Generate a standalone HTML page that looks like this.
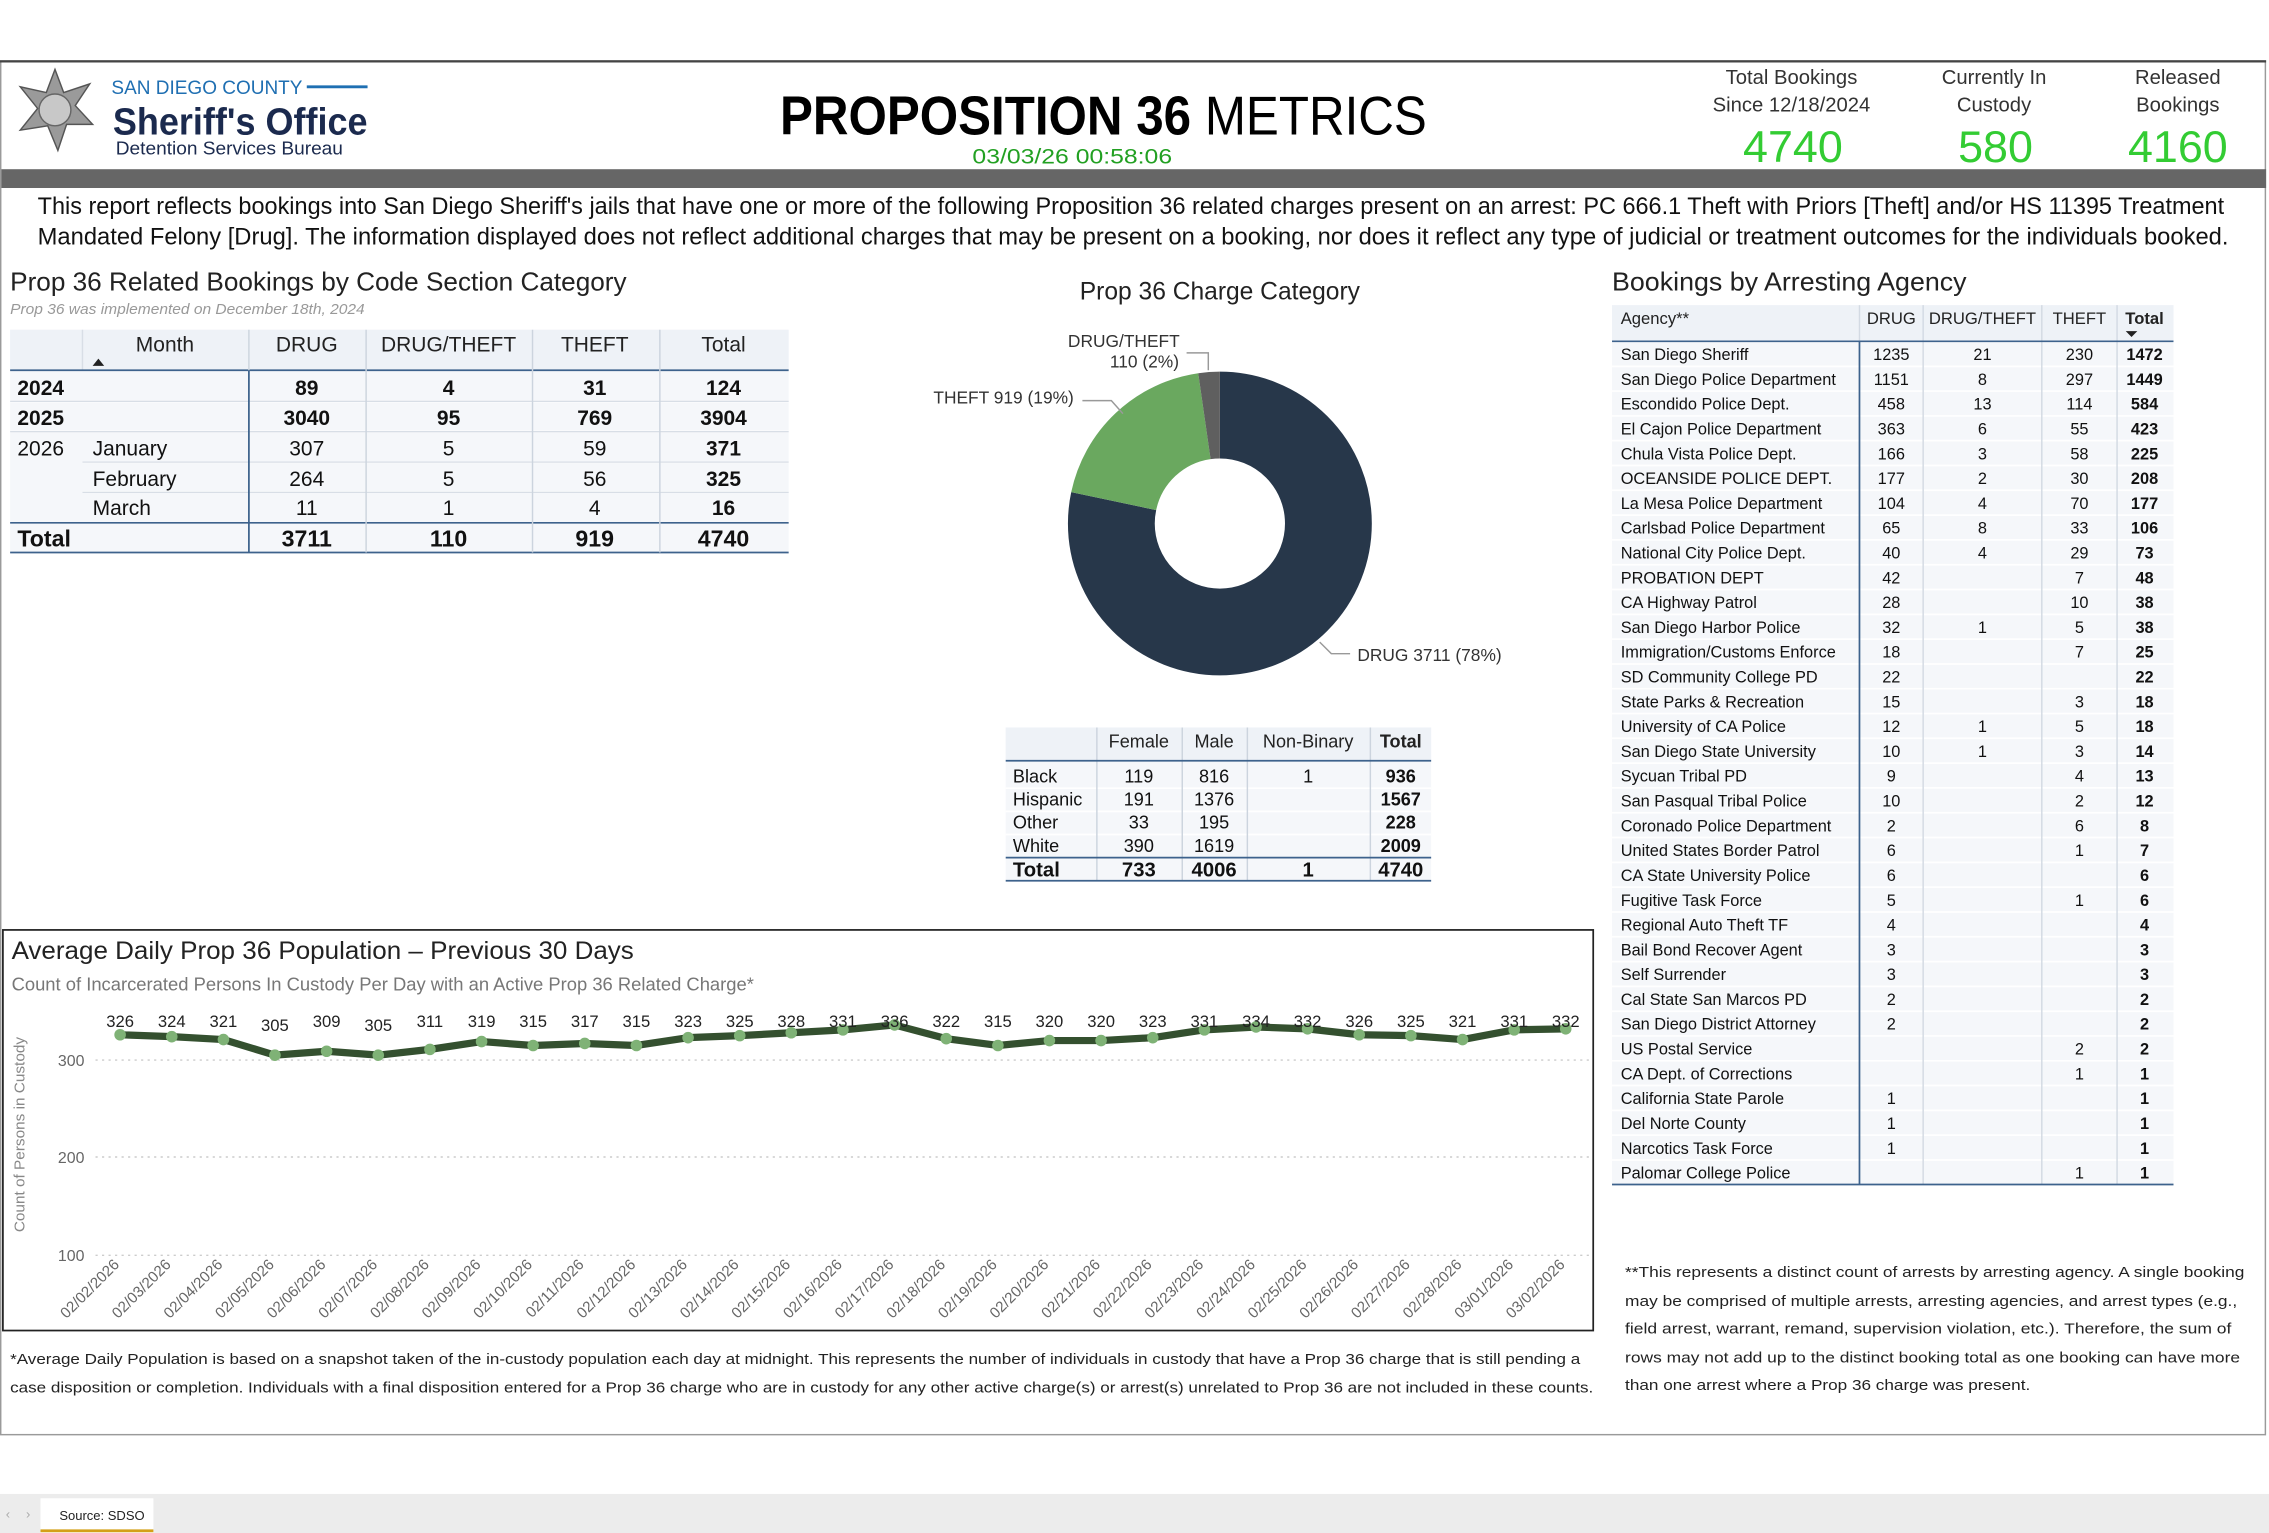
<!DOCTYPE html>
<html><head><meta charset="utf-8"><style>
html,body{margin:0;padding:0;background:#fff;}
svg{display:block;}
text{font-family:"Liberation Sans",sans-serif;}
</style></head><body>
<svg width="2269" height="1533" viewBox="0 0 1568 1060" preserveAspectRatio="none" xmlns="http://www.w3.org/2000/svg">
<rect width="1568" height="1060" fill="#fff"/>
<!-- frame -->
<rect x="0.5" y="42" width="1565" height="950" fill="#fff" stroke="#9a9a9a" stroke-width="1"/>
<line x1="0" y1="42.5" x2="1566" y2="42.5" stroke="#444" stroke-width="1.5"/>
<!-- logo -->
<polygon points="38,48 44,64 62,58 52,73 64,86 46,86 40,104 33,87 14,90 26,75 14,60 32,64" fill="#9a9a9a" stroke="#555" stroke-width="1"/>
<circle cx="38" cy="76" r="11" fill="#c8c8c8" stroke="#666"/>
<text x="77" y="65" font-size="13.5" fill="#1f6fb2" textLength="132" lengthAdjust="spacingAndGlyphs">SAN DIEGO COUNTY</text>
<line x1="212" y1="60" x2="254" y2="60" stroke="#1f6fb2" stroke-width="2"/>
<text x="78" y="93" font-size="26" font-weight="bold" fill="#1b2a4e" textLength="176" lengthAdjust="spacingAndGlyphs">Sheriff's Office</text>
<text x="80" y="107" font-size="12.5" fill="#1b2a4e" textLength="157" lengthAdjust="spacingAndGlyphs">Detention Services Bureau</text>
<!-- title -->
<text x="539" y="93" font-size="38" fill="#000" textLength="447" lengthAdjust="spacingAndGlyphs"><tspan font-weight="bold">PROPOSITION 36</tspan> METRICS</text>
<text x="672" y="113" font-size="15" fill="#22a022" textLength="138" lengthAdjust="spacingAndGlyphs">03/03/26 00:58:06</text>
<!-- KPIs -->
<g font-size="14" fill="#333" text-anchor="middle">
<text x="1238" y="58">Total Bookings</text><text x="1238" y="77">Since 12/18/2024</text>
<text x="1378" y="58">Currently In</text><text x="1378" y="77">Custody</text>
<text x="1505" y="58">Released</text><text x="1505" y="77">Bookings</text>
</g>
<g font-size="31" fill="#33cc33" text-anchor="middle">
<text x="1239" y="112">4740</text><text x="1379" y="112">580</text><text x="1505" y="112">4160</text>
</g>
<rect x="1" y="117" width="1565" height="13" fill="#666"/>
<text x="26" y="148" font-size="16.5" fill="#111" textLength="1511" lengthAdjust="spacingAndGlyphs">This report reflects bookings into San Diego Sheriff's jails that have one or more of the following Proposition 36 related charges present on an arrest: PC 666.1 Theft with Priors [Theft] and/or HS 11395 Treatment</text>
<text x="26" y="169" font-size="16.5" fill="#111" textLength="1514" lengthAdjust="spacingAndGlyphs">Mandated Felony [Drug]. The information displayed does not reflect additional charges that may be present on a booking, nor does it reflect any type of judicial or treatment outcomes for the individuals booked.</text>

<!-- left table -->
<text x="7" y="201" font-size="18" fill="#222" textLength="426" lengthAdjust="spacingAndGlyphs">Prop 36 Related Bookings by Code Section Category</text>
<text x="7" y="217" font-size="10.5" font-style="italic" fill="#999" textLength="245" lengthAdjust="spacingAndGlyphs">Prop 36 was implemented on December 18th, 2024</text>
<rect x="7" y="228" width="538" height="154" fill="#f5f7fa"/>
<rect x="7" y="228" width="538" height="28" fill="#eef2f7"/>
<g stroke="#fff" stroke-width="1.5"><line x1="7" x2="545" y1="277.5" y2="277.5"/><line x1="7" x2="545" y1="298.5" y2="298.5"/><line x1="57" x2="545" y1="319.5" y2="319.5"/><line x1="57" x2="545" y1="340.5" y2="340.5"/></g>
<g stroke="#d8dee6" stroke-width="1"><line x1="57" x2="57" y1="228" y2="256"/><line x1="57" x2="545" y1="319.5" y2="319.5"/><line x1="57" x2="545" y1="340.5" y2="340.5"/><line x1="7" x2="545" y1="298.5" y2="298.5"/><line x1="7" x2="545" y1="277.5" y2="277.5"/></g>
<g stroke="#3d628c" stroke-width="1.2"><line x1="7" x2="545" y1="256" y2="256"/><line x1="7" x2="545" y1="361.5" y2="361.5"/><line x1="7" x2="545" y1="382" y2="382"/><line x1="172" x2="172" y1="256" y2="382"/></g>
<g stroke="#ccd4de" stroke-width="1"><line x1="172" x2="172" y1="228" y2="256"/><line x1="253" x2="253" y1="228" y2="382"/><line x1="368" x2="368" y1="228" y2="382"/><line x1="456" x2="456" y1="228" y2="382"/></g>
<g font-size="14.5" fill="#222" text-anchor="middle">
<text x="114" y="243">Month</text><text x="212" y="243">DRUG</text><text x="310" y="243">DRUG/THEFT</text><text x="411" y="243">THEFT</text><text x="500" y="243">Total</text>
</g>
<polygon points="64,253 72,253 68,248" fill="#222"/>
<g font-size="14.5" fill="#111">
<text x="12" y="273" font-weight="bold">2024</text><text x="12" y="294" font-weight="bold">2025</text>
<text x="12" y="315">2026</text><text x="64" y="315">January</text><text x="64" y="336">February</text><text x="64" y="356">March</text>
<text x="12" y="378" font-weight="bold" font-size="16">Total</text>
</g>
<g font-size="14.5" fill="#111" text-anchor="middle">
<g font-weight="bold"><text x="212" y="273">89</text><text x="310" y="273">4</text><text x="411" y="273">31</text><text x="500" y="273">124</text>
<text x="212" y="294">3040</text><text x="310" y="294">95</text><text x="411" y="294">769</text><text x="500" y="294">3904</text></g>
<text x="212" y="315">307</text><text x="310" y="315">5</text><text x="411" y="315">59</text><text x="500" y="315" font-weight="bold">371</text>
<text x="212" y="336">264</text><text x="310" y="336">5</text><text x="411" y="336">56</text><text x="500" y="336" font-weight="bold">325</text>
<text x="212" y="356">11</text><text x="310" y="356">1</text><text x="411" y="356">4</text><text x="500" y="356" font-weight="bold">16</text>
<g font-weight="bold" font-size="16"><text x="212" y="378">3711</text><text x="310" y="378">110</text><text x="411" y="378">919</text><text x="500" y="378">4740</text></g>
</g>

<!-- donut -->
<text x="843" y="207" font-size="17" fill="#222" text-anchor="middle">Prop 36 Charge Category</text>
<g transform="rotate(-90 843 362)" fill="none" stroke-width="60">
<circle cx="843" cy="362" r="75" stroke="#27374a" stroke-dasharray="368.9 471.24"/>
<circle cx="843" cy="362" r="75" stroke="#6aa85f" stroke-dasharray="0 368.9 91.4 20"/>
<circle cx="843" cy="362" r="75" stroke="#5f5f5f" stroke-dasharray="0 460.3 10.94 10"/>
</g>
<g stroke="#999" fill="none" stroke-width="1"><polyline points="820,244 835,244 835,256"/><polyline points="748,277 768,277 776,286"/><polyline points="912,444 920,452 933,452"/></g>
<g font-size="12" fill="#333">
<text x="738" y="240">DRUG/THEFT</text><text x="767" y="254">110 (2%)</text>
<text x="645" y="279">THEFT 919 (19%)</text>
<text x="938" y="457">DRUG 3711 (78%)</text>
</g>

<!-- demographics table -->
<rect x="695" y="503" width="294" height="106" fill="#f5f7fa"/>
<rect x="695" y="503" width="294" height="23" fill="#eef2f7"/>
<g stroke="#fff" stroke-width="1.2"><line x1="695" x2="989" y1="545" y2="545"/><line x1="695" x2="989" y1="561" y2="561"/><line x1="695" x2="989" y1="577" y2="577"/></g>
<g stroke="#ccd4de"><line x1="758" x2="758" y1="503" y2="609"/><line x1="817" x2="817" y1="503" y2="609"/><line x1="862" x2="862" y1="503" y2="609"/><line x1="947" x2="947" y1="503" y2="609"/></g>
<g stroke="#3d628c" stroke-width="1.2"><line x1="695" x2="989" y1="526" y2="526"/><line x1="695" x2="989" y1="593" y2="593"/><line x1="695" x2="989" y1="609" y2="609"/></g>
<g font-size="12.5" fill="#222" text-anchor="middle"><text x="787" y="517">Female</text><text x="839" y="517">Male</text><text x="904" y="517">Non-Binary</text><text x="968" y="517" font-weight="bold">Total</text></g>
<g font-size="12.5" fill="#111"><text x="700" y="541">Black</text><text x="700" y="557">Hispanic</text><text x="700" y="573">Other</text><text x="700" y="589">White</text><text x="700" y="606" font-weight="bold" font-size="14">Total</text></g>
<g font-size="12.5" fill="#111" text-anchor="middle">
<text x="787" y="541">119</text><text x="839" y="541">816</text><text x="904" y="541">1</text><text x="968" y="541" font-weight="bold">936</text>
<text x="787" y="557">191</text><text x="839" y="557">1376</text><text x="968" y="557" font-weight="bold">1567</text>
<text x="787" y="573">33</text><text x="839" y="573">195</text><text x="968" y="573" font-weight="bold">228</text>
<text x="787" y="589">390</text><text x="839" y="589">1619</text><text x="968" y="589" font-weight="bold">2009</text>
<g font-weight="bold" font-size="14"><text x="787" y="606">733</text><text x="839" y="606">4006</text><text x="904" y="606">1</text><text x="968" y="606">4740</text></g>
</g>

<!-- agency table -->
<text x="1114" y="201" font-size="18" fill="#222" textLength="245" lengthAdjust="spacingAndGlyphs">Bookings by Arresting Agency</text>
<rect x="1114" y="211" width="388" height="608" fill="#f5f7fa"/>
<rect x="1114" y="211" width="388" height="25" fill="#eef2f7"/>
<g stroke="#fff" stroke-width="1.2">
<line x1="1114" x2="1502" y1="253.3" y2="253.3"/><line x1="1114" x2="1502" y1="270.4" y2="270.4"/><line x1="1114" x2="1502" y1="287.6" y2="287.6"/><line x1="1114" x2="1502" y1="304.7" y2="304.7"/><line x1="1114" x2="1502" y1="321.9" y2="321.9"/><line x1="1114" x2="1502" y1="339" y2="339"/><line x1="1114" x2="1502" y1="356.2" y2="356.2"/><line x1="1114" x2="1502" y1="373.3" y2="373.3"/><line x1="1114" x2="1502" y1="390.5" y2="390.5"/><line x1="1114" x2="1502" y1="407.6" y2="407.6"/><line x1="1114" x2="1502" y1="424.8" y2="424.8"/><line x1="1114" x2="1502" y1="441.9" y2="441.9"/><line x1="1114" x2="1502" y1="459.1" y2="459.1"/><line x1="1114" x2="1502" y1="476.2" y2="476.2"/><line x1="1114" x2="1502" y1="493.4" y2="493.4"/><line x1="1114" x2="1502" y1="510.5" y2="510.5"/><line x1="1114" x2="1502" y1="527.7" y2="527.7"/><line x1="1114" x2="1502" y1="544.8" y2="544.8"/><line x1="1114" x2="1502" y1="562" y2="562"/><line x1="1114" x2="1502" y1="579.1" y2="579.1"/><line x1="1114" x2="1502" y1="596.3" y2="596.3"/><line x1="1114" x2="1502" y1="613.4" y2="613.4"/><line x1="1114" x2="1502" y1="630.6" y2="630.6"/><line x1="1114" x2="1502" y1="647.7" y2="647.7"/><line x1="1114" x2="1502" y1="664.9" y2="664.9"/><line x1="1114" x2="1502" y1="682" y2="682"/><line x1="1114" x2="1502" y1="699.2" y2="699.2"/><line x1="1114" x2="1502" y1="716.3" y2="716.3"/><line x1="1114" x2="1502" y1="733.5" y2="733.5"/><line x1="1114" x2="1502" y1="750.6" y2="750.6"/><line x1="1114" x2="1502" y1="767.8" y2="767.8"/><line x1="1114" x2="1502" y1="784.9" y2="784.9"/><line x1="1114" x2="1502" y1="802.1" y2="802.1"/>
</g>
<g stroke="#d3dae3"><line x1="1329" x2="1329" y1="211" y2="819"/><line x1="1411" x2="1411" y1="211" y2="819"/><line x1="1463" x2="1463" y1="211" y2="819"/><line x1="1285" x2="1285" y1="211" y2="236"/></g>
<g stroke="#3d628c" stroke-width="1.2"><line x1="1114" x2="1502" y1="236" y2="236"/><line x1="1285" x2="1285" y1="236" y2="819"/><line x1="1114" x2="1502" y1="819" y2="819"/></g>
<g font-size="11.5" fill="#222"><text x="1120" y="224">Agency**</text></g>
<g font-size="11.5" fill="#222" text-anchor="middle"><text x="1307" y="224">DRUG</text><text x="1370" y="224">DRUG/THEFT</text><text x="1437" y="224">THEFT</text><text x="1482" y="224" font-weight="bold">Total</text></g>
<polygon points="1469,229 1477,229 1473,233" fill="#222"/>
<g font-size="11.3" fill="#111">
<text x="1120" y="249">San Diego Sheriff</text>
<text x="1120" y="266.1">San Diego Police Department</text>
<text x="1120" y="283.3">Escondido Police Dept.</text>
<text x="1120" y="300.4">El Cajon Police Department</text>
<text x="1120" y="317.6">Chula Vista Police Dept.</text>
<text x="1120" y="334.7">OCEANSIDE POLICE DEPT.</text>
<text x="1120" y="351.9">La Mesa Police Department</text>
<text x="1120" y="369">Carlsbad Police Department</text>
<text x="1120" y="386.2">National City Police Dept.</text>
<text x="1120" y="403.3">PROBATION DEPT</text>
<text x="1120" y="420.5">CA Highway Patrol</text>
<text x="1120" y="437.6">San Diego Harbor Police</text>
<text x="1120" y="454.8">Immigration/Customs Enforce</text>
<text x="1120" y="471.9">SD Community College PD</text>
<text x="1120" y="489.1">State Parks &amp; Recreation</text>
<text x="1120" y="506.2">University of CA Police</text>
<text x="1120" y="523.4">San Diego State University</text>
<text x="1120" y="540.5">Sycuan Tribal PD</text>
<text x="1120" y="557.7">San Pasqual Tribal Police</text>
<text x="1120" y="574.8">Coronado Police Department</text>
<text x="1120" y="592">United States Border Patrol</text>
<text x="1120" y="609.1">CA State University Police</text>
<text x="1120" y="626.3">Fugitive Task Force</text>
<text x="1120" y="643.4">Regional Auto Theft TF</text>
<text x="1120" y="660.6">Bail Bond Recover Agent</text>
<text x="1120" y="677.7">Self Surrender</text>
<text x="1120" y="694.9">Cal State San Marcos PD</text>
<text x="1120" y="712">San Diego District Attorney</text>
<text x="1120" y="729.2">US Postal Service</text>
<text x="1120" y="746.3">CA Dept. of Corrections</text>
<text x="1120" y="763.5">California State Parole</text>
<text x="1120" y="780.6">Del Norte County</text>
<text x="1120" y="797.8">Narcotics Task Force</text>
<text x="1120" y="814.9">Palomar College Police</text>
</g>
<g font-size="11.3" fill="#111" text-anchor="middle">
<g transform="translate(0,249)"><text x="1307">1235</text><text x="1370">21</text><text x="1437">230</text><text x="1482" font-weight="bold">1472</text></g>
<g transform="translate(0,266.1)"><text x="1307">1151</text><text x="1370">8</text><text x="1437">297</text><text x="1482" font-weight="bold">1449</text></g>
<g transform="translate(0,283.3)"><text x="1307">458</text><text x="1370">13</text><text x="1437">114</text><text x="1482" font-weight="bold">584</text></g>
<g transform="translate(0,300.4)"><text x="1307">363</text><text x="1370">6</text><text x="1437">55</text><text x="1482" font-weight="bold">423</text></g>
<g transform="translate(0,317.6)"><text x="1307">166</text><text x="1370">3</text><text x="1437">58</text><text x="1482" font-weight="bold">225</text></g>
<g transform="translate(0,334.7)"><text x="1307">177</text><text x="1370">2</text><text x="1437">30</text><text x="1482" font-weight="bold">208</text></g>
<g transform="translate(0,351.9)"><text x="1307">104</text><text x="1370">4</text><text x="1437">70</text><text x="1482" font-weight="bold">177</text></g>
<g transform="translate(0,369)"><text x="1307">65</text><text x="1370">8</text><text x="1437">33</text><text x="1482" font-weight="bold">106</text></g>
<g transform="translate(0,386.2)"><text x="1307">40</text><text x="1370">4</text><text x="1437">29</text><text x="1482" font-weight="bold">73</text></g>
<g transform="translate(0,403.3)"><text x="1307">42</text><text x="1437">7</text><text x="1482" font-weight="bold">48</text></g>
<g transform="translate(0,420.5)"><text x="1307">28</text><text x="1437">10</text><text x="1482" font-weight="bold">38</text></g>
<g transform="translate(0,437.6)"><text x="1307">32</text><text x="1370">1</text><text x="1437">5</text><text x="1482" font-weight="bold">38</text></g>
<g transform="translate(0,454.8)"><text x="1307">18</text><text x="1437">7</text><text x="1482" font-weight="bold">25</text></g>
<g transform="translate(0,471.9)"><text x="1307">22</text><text x="1482" font-weight="bold">22</text></g>
<g transform="translate(0,489.1)"><text x="1307">15</text><text x="1437">3</text><text x="1482" font-weight="bold">18</text></g>
<g transform="translate(0,506.2)"><text x="1307">12</text><text x="1370">1</text><text x="1437">5</text><text x="1482" font-weight="bold">18</text></g>
<g transform="translate(0,523.4)"><text x="1307">10</text><text x="1370">1</text><text x="1437">3</text><text x="1482" font-weight="bold">14</text></g>
<g transform="translate(0,540.5)"><text x="1307">9</text><text x="1437">4</text><text x="1482" font-weight="bold">13</text></g>
<g transform="translate(0,557.7)"><text x="1307">10</text><text x="1437">2</text><text x="1482" font-weight="bold">12</text></g>
<g transform="translate(0,574.8)"><text x="1307">2</text><text x="1437">6</text><text x="1482" font-weight="bold">8</text></g>
<g transform="translate(0,592)"><text x="1307">6</text><text x="1437">1</text><text x="1482" font-weight="bold">7</text></g>
<g transform="translate(0,609.1)"><text x="1307">6</text><text x="1482" font-weight="bold">6</text></g>
<g transform="translate(0,626.3)"><text x="1307">5</text><text x="1437">1</text><text x="1482" font-weight="bold">6</text></g>
<g transform="translate(0,643.4)"><text x="1307">4</text><text x="1482" font-weight="bold">4</text></g>
<g transform="translate(0,660.6)"><text x="1307">3</text><text x="1482" font-weight="bold">3</text></g>
<g transform="translate(0,677.7)"><text x="1307">3</text><text x="1482" font-weight="bold">3</text></g>
<g transform="translate(0,694.9)"><text x="1307">2</text><text x="1482" font-weight="bold">2</text></g>
<g transform="translate(0,712)"><text x="1307">2</text><text x="1482" font-weight="bold">2</text></g>
<g transform="translate(0,729.2)"><text x="1437">2</text><text x="1482" font-weight="bold">2</text></g>
<g transform="translate(0,746.3)"><text x="1437">1</text><text x="1482" font-weight="bold">1</text></g>
<g transform="translate(0,763.5)"><text x="1307">1</text><text x="1482" font-weight="bold">1</text></g>
<g transform="translate(0,780.6)"><text x="1307">1</text><text x="1482" font-weight="bold">1</text></g>
<g transform="translate(0,797.8)"><text x="1307">1</text><text x="1482" font-weight="bold">1</text></g>
<g transform="translate(0,814.9)"><text x="1437">1</text><text x="1482" font-weight="bold">1</text></g>
</g>
<g font-size="10.5" fill="#222">
<text x="1123" y="883" textLength="428" lengthAdjust="spacingAndGlyphs">**This represents a distinct count of arrests by arresting agency. A single booking</text>
<text x="1123" y="903" textLength="423" lengthAdjust="spacingAndGlyphs">may be comprised of multiple arrests, arresting agencies, and arrest types (e.g.,</text>
<text x="1123" y="922" textLength="419" lengthAdjust="spacingAndGlyphs">field arrest, warrant, remand, supervision violation, etc.). Therefore, the sum of</text>
<text x="1123" y="942" textLength="425" lengthAdjust="spacingAndGlyphs">rows may not add up to the distinct booking total as one booking can have more</text>
<text x="1123" y="961" textLength="280" lengthAdjust="spacingAndGlyphs">than one arrest where a Prop 36 charge was present.</text>
</g>

<!-- line chart -->
<rect x="2" y="643" width="1099" height="277" fill="#fff" stroke="#222" stroke-width="1.2"/>
<text x="8" y="663" font-size="17" fill="#222" textLength="430" lengthAdjust="spacingAndGlyphs">Average Daily Prop 36 Population – Previous 30 Days</text>
<text x="8" y="685" font-size="12.5" fill="#777" textLength="513" lengthAdjust="spacingAndGlyphs">Count of Incarcerated Persons In Custody Per Day with an Active Prop 36 Related Charge*</text>
<text transform="translate(17,852) rotate(-90)" font-size="10" fill="#888" textLength="135" lengthAdjust="spacingAndGlyphs">Count of Persons in Custody</text>
<g stroke="#ccc" stroke-dasharray="1.5 3" stroke-width="1"><line x1="66" x2="1098" y1="733" y2="733"/><line x1="66" x2="1098" y1="800" y2="800"/><line x1="66" x2="1098" y1="868" y2="868"/></g>
<g font-size="11" fill="#666"><text x="40" y="737">300</text><text x="40" y="804">200</text><text x="40" y="872">100</text></g>
<polyline fill="none" stroke="#34502f" stroke-width="5" stroke-linejoin="round" points="83,715.5 118.7,716.8 154.4,718.8 190,729.6 225.7,726.9 261.4,729.6 297.1,725.6 332.8,720.2 368.4,722.9 404.1,721.5 439.8,722.9 475.5,717.5 511.2,716.1 546.8,714.1 582.5,712.1 618.2,708.7 653.9,718.2 689.6,722.9 725.2,719.5 760.9,719.5 796.6,717.5 832.3,712.1 868,710.1 903.6,711.4 939.3,715.5 975,716.1 1010.7,718.8 1046.4,712.1 1082,711.4"/>
<g fill="#7fb276">
<circle cx="83" cy="715.5" r="4"/><circle cx="118.7" cy="716.8" r="4"/><circle cx="154.4" cy="718.8" r="4"/><circle cx="190" cy="729.6" r="4"/><circle cx="225.7" cy="726.9" r="4"/><circle cx="261.4" cy="729.6" r="4"/><circle cx="297.1" cy="725.6" r="4"/><circle cx="332.8" cy="720.2" r="4"/><circle cx="368.4" cy="722.9" r="4"/><circle cx="404.1" cy="721.5" r="4"/><circle cx="439.8" cy="722.9" r="4"/><circle cx="475.5" cy="717.5" r="4"/><circle cx="511.2" cy="716.1" r="4"/><circle cx="546.8" cy="714.1" r="4"/><circle cx="582.5" cy="712.1" r="4"/><circle cx="618.2" cy="708.7" r="4"/><circle cx="653.9" cy="718.2" r="4"/><circle cx="689.6" cy="722.9" r="4"/><circle cx="725.2" cy="719.5" r="4"/><circle cx="760.9" cy="719.5" r="4"/><circle cx="796.6" cy="717.5" r="4"/><circle cx="832.3" cy="712.1" r="4"/><circle cx="868" cy="710.1" r="4"/><circle cx="903.6" cy="711.4" r="4"/><circle cx="939.3" cy="715.5" r="4"/><circle cx="975" cy="716.1" r="4"/><circle cx="1010.7" cy="718.8" r="4"/><circle cx="1046.4" cy="712.1" r="4"/><circle cx="1082" cy="711.4" r="4"/>
</g>
<g font-size="11.5" fill="#222" text-anchor="middle">
<text x="83" y="710">326</text><text x="118.7" y="710">324</text><text x="154.4" y="710">321</text><text x="190" y="713">305</text><text x="225.7" y="710">309</text><text x="261.4" y="713">305</text><text x="297.1" y="710">311</text><text x="332.8" y="710">319</text><text x="368.4" y="710">315</text><text x="404.1" y="710">317</text><text x="439.8" y="710">315</text><text x="475.5" y="710">323</text><text x="511.2" y="710">325</text><text x="546.8" y="710">328</text><text x="582.5" y="710">331</text><text x="618.2" y="710">336</text><text x="653.9" y="710">322</text><text x="689.6" y="710">315</text><text x="725.2" y="710">320</text><text x="760.9" y="710">320</text><text x="796.6" y="710">323</text><text x="832.3" y="710">331</text><text x="868" y="710">334</text><text x="903.6" y="710">332</text><text x="939.3" y="710">326</text><text x="975" y="710">325</text><text x="1010.7" y="710">321</text><text x="1046.4" y="710">331</text><text x="1082" y="710">332</text>
</g>
<g font-size="10.5" fill="#666" text-anchor="end">
<text transform="translate(83,875) rotate(-45)">02/02/2026</text>
<text transform="translate(118.7,875) rotate(-45)">02/03/2026</text>
<text transform="translate(154.4,875) rotate(-45)">02/04/2026</text>
<text transform="translate(190,875) rotate(-45)">02/05/2026</text>
<text transform="translate(225.7,875) rotate(-45)">02/06/2026</text>
<text transform="translate(261.4,875) rotate(-45)">02/07/2026</text>
<text transform="translate(297.1,875) rotate(-45)">02/08/2026</text>
<text transform="translate(332.8,875) rotate(-45)">02/09/2026</text>
<text transform="translate(368.4,875) rotate(-45)">02/10/2026</text>
<text transform="translate(404.1,875) rotate(-45)">02/11/2026</text>
<text transform="translate(439.8,875) rotate(-45)">02/12/2026</text>
<text transform="translate(475.5,875) rotate(-45)">02/13/2026</text>
<text transform="translate(511.2,875) rotate(-45)">02/14/2026</text>
<text transform="translate(546.8,875) rotate(-45)">02/15/2026</text>
<text transform="translate(582.5,875) rotate(-45)">02/16/2026</text>
<text transform="translate(618.2,875) rotate(-45)">02/17/2026</text>
<text transform="translate(653.9,875) rotate(-45)">02/18/2026</text>
<text transform="translate(689.6,875) rotate(-45)">02/19/2026</text>
<text transform="translate(725.2,875) rotate(-45)">02/20/2026</text>
<text transform="translate(760.9,875) rotate(-45)">02/21/2026</text>
<text transform="translate(796.6,875) rotate(-45)">02/22/2026</text>
<text transform="translate(832.3,875) rotate(-45)">02/23/2026</text>
<text transform="translate(868,875) rotate(-45)">02/24/2026</text>
<text transform="translate(903.6,875) rotate(-45)">02/25/2026</text>
<text transform="translate(939.3,875) rotate(-45)">02/26/2026</text>
<text transform="translate(975,875) rotate(-45)">02/27/2026</text>
<text transform="translate(1010.7,875) rotate(-45)">02/28/2026</text>
<text transform="translate(1046.4,875) rotate(-45)">03/01/2026</text>
<text transform="translate(1082,875) rotate(-45)">03/02/2026</text>
</g>
<g font-size="10.5" fill="#222">
<text x="7" y="943" textLength="1085" lengthAdjust="spacingAndGlyphs">*Average Daily Population is based on a snapshot taken of the in-custody population each day at midnight. This represents the number of individuals in custody that have a Prop 36 charge that is still pending a</text>
<text x="7" y="963" textLength="1094" lengthAdjust="spacingAndGlyphs">case disposition or completion. Individuals with a final disposition entered for a Prop 36 charge who are in custody for any other active charge(s) or arrest(s) unrelated to Prop 36 are not included in these counts.</text>
</g>

<!-- bottom tabs -->
<rect x="0" y="1033" width="1568" height="27" fill="#ececec"/>
<rect x="28" y="1036" width="78" height="24" fill="#fff"/>
<line x1="28" x2="106" y1="1058.5" y2="1058.5" stroke="#d4a017" stroke-width="2"/>
<text x="41" y="1051" font-size="9" fill="#222">Source: SDSO</text>
<text x="4" y="1050" font-size="9" fill="#aaa">‹</text><text x="18" y="1050" font-size="9" fill="#aaa">›</text>
</svg>
</body></html>
